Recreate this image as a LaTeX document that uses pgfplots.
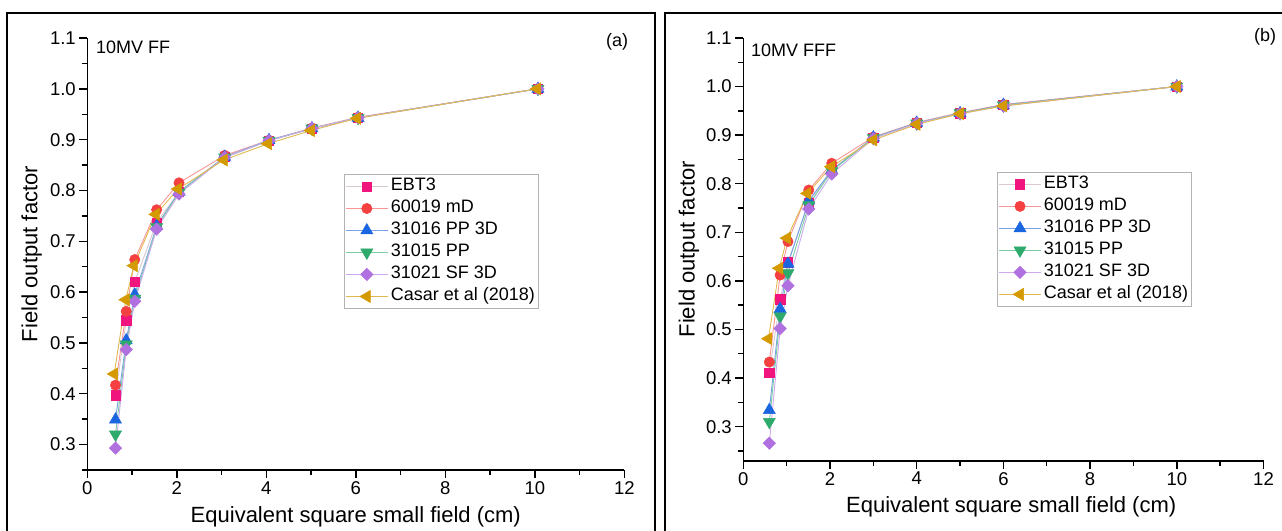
\documentclass[border=0pt]{standalone}
\usepackage{fontspec}
\setmainfont{Liberation Sans}
\usepackage{pgfplots}
\pgfplotsset{compat=1.18}

\definecolor{mEBT}{RGB}{240,20,127}
\definecolor{lEBT}{RGB}{215,200,210}
\definecolor{mMD}{RGB}{244,64,64}
\definecolor{lMD}{RGB}{248,150,150}
\definecolor{mPPD}{RGB}{26,102,224}
\definecolor{lPPD}{RGB}{120,160,230}
\definecolor{mPP}{RGB}{46,170,108}
\definecolor{lPP}{RGB}{120,205,160}
\definecolor{mSF}{RGB}{176,112,224}
\definecolor{lSF}{RGB}{205,170,240}
\definecolor{mCA}{RGB}{212,154,0}
\definecolor{lCA}{RGB}{225,185,80}

\pgfplotsset{
  myaxis/.style={
    scale only axis,
    xmin=0, xmax=12,
    axis x line*=bottom, axis y line*=left,
    axis line style={-, line width=1.6pt},
    tick align=outside,
    tick style={line width=1.4pt, black},
    major tick length=8pt, minor tick length=5pt,
    xtick={0,2,4,6,8,10,12},
    minor xtick={1,3,5,7,9,11},
    ytick={0.3,0.4,0.5,0.6,0.7,0.8,0.9,1.0,1.1},
    minor ytick={0.25,0.35,0.45,0.55,0.65,0.75,0.85,0.95,1.05},
    ticklabel style={font=\fontsize{18.5}{20}\selectfont},
    /pgf/number format/assume math mode=true,
    yticklabel style={/pgf/number format/.cd, fixed, fixed zerofill, precision=1},
    xticklabel style={/pgf/number format/.cd, fixed, precision=0},
    label style={font=\fontsize{22}{24}\selectfont},
    xlabel={Equivalent square small field (cm)},
    ylabel={Field output factor},
    clip=false,
    legend cell align=left,
    legend style={draw=gray!60, line width=0.8pt, inner sep=1pt,
      font=\fontsize{18}{20}\selectfont,
      nodes={inner sep=2.5pt, text height=13pt, text depth=4pt}},
    legend image code/.code={\draw[mark repeat=2,mark phase=2,##1] plot coordinates {(0pt,0pt) (21pt,0pt) (42pt,0pt)};},
  },
  sEBT/.style={color=lEBT, line width=0.9pt, mark=square*, mark size=4.7pt, mark options={draw=mEBT, fill=mEBT, solid, line width=0.5pt}},
  sMD/.style={color=lMD, line width=0.9pt, mark=*, mark size=5.2pt, mark options={draw=mMD, fill=mMD, solid, line width=0.5pt}},
  sPPD/.style={color=lPPD, line width=0.9pt, mark=triangle*, mark size=7pt, mark options={draw=mPPD, fill=mPPD, solid, line width=0.5pt}},
  sPP/.style={color=lPP, line width=0.9pt, mark=triangle*, mark size=7pt, mark options={draw=mPP, fill=mPP, solid, rotate=180, line width=0.5pt}},
  sSF/.style={color=lSF, line width=0.9pt, mark=square*, mark size=4.4pt, mark options={draw=mSF, fill=mSF, solid, rotate=45, line width=0.5pt}},
  sCA/.style={color=lCA, line width=0.9pt, mark=triangle*, mark size=7pt, mark options={draw=mCA, fill=mCA, solid, rotate=90, line width=0.5pt}},
}

\begin{document}
\begin{tikzpicture}[x=1pt,y=1pt]
\useasboundingbox (0,0) rectangle (1282,530);
\draw[line width=2pt] (7,-5) -- (7,517.3) -- (655,517.3) -- (655,-5);
\draw[line width=2pt] (665,-5) -- (665,517.3) -- (1290,517.3);

% ---------------- (a) 10MV FF ----------------
\begin{axis}[myaxis,
  at={(87.3pt,60pt)}, anchor=south west,
  width=537pt, height=432pt,
  ymin=0.25, ymax=1.1,
  x label style={at={(axis description cs:0.5,-0.108)}, anchor=center},
  y label style={at={(axis description cs:-0.1035,0.5)}, anchor=center},
  legend style={at={(axis description cs:0.478,0.685)}, anchor=north west},
]
\addplot[sEBT] coordinates {(0.63,0.397) (0.87,0.545) (1.06,0.620) (1.55,0.737) (2.05,0.797) (3.07,0.866) (4.06,0.898) (5.02,0.922) (6.05,0.943) (10.07,1.0)};
\addlegendentry{EBT3}
\addplot[sMD] coordinates {(0.63,0.417) (0.87,0.562) (1.06,0.664) (1.55,0.762) (2.05,0.815) (3.07,0.869) (4.06,0.899) (5.02,0.923) (6.05,0.944) (10.07,1.0)};
\addlegendentry{60019 mD}
\addplot[sPPD] coordinates {(0.63,0.349) (0.87,0.505) (1.06,0.595) (1.55,0.730) (2.05,0.797) (3.07,0.866) (4.06,0.899) (5.02,0.922) (6.05,0.943) (10.07,1.0)};
\addlegendentry{31016 PP 3D}
\addplot[sPP] coordinates {(0.63,0.320) (0.87,0.497) (1.06,0.587) (1.55,0.728) (2.05,0.796) (3.07,0.865) (4.06,0.898) (5.02,0.922) (6.05,0.943) (10.07,1.0)};
\addlegendentry{31015 PP}
\addplot[sSF] coordinates {(0.63,0.293) (0.87,0.487) (1.06,0.582) (1.55,0.724) (2.05,0.793) (3.07,0.865) (4.06,0.898) (5.02,0.922) (6.05,0.943) (10.07,1.0)};
\addlegendentry{31021 SF 3D}
\addplot[sCA] coordinates {(0.60,0.439) (0.86,0.585) (1.04,0.652) (1.53,0.753) (2.03,0.803) (3.05,0.860) (4.04,0.892) (5.0,0.918) (6.03,0.942) (10.05,1.0)};
\addlegendentry{Casar et al (2018)}
\end{axis}

% ---------------- (b) 10MV FFF ----------------
\begin{axis}[myaxis,
  at={(743.3pt,69.3pt)}, anchor=south west,
  width=520.2pt, height=422.8pt,
  ymin=0.23, ymax=1.1,
  x label style={at={(axis description cs:0.515,-0.108)}, anchor=center},
  y label style={at={(axis description cs:-0.1044,0.5)}, anchor=center},
  legend style={at={(axis description cs:0.488,0.683)}, anchor=north west},
]
\addplot[sEBT] coordinates {(0.6,0.411) (0.85,0.562) (1.03,0.638) (1.51,0.761) (2.04,0.828) (3.0,0.895) (4.0,0.925) (5.0,0.945) (6.0,0.962) (10.0,1.0)};
\addlegendentry{EBT3}
\addplot[sMD] coordinates {(0.6,0.433) (0.85,0.612) (1.03,0.681) (1.51,0.787) (2.04,0.842) (3.0,0.896) (4.0,0.926) (5.0,0.946) (6.0,0.963) (10.0,1.0)};
\addlegendentry{60019 mD}
\addplot[sPPD] coordinates {(0.6,0.334) (0.85,0.542) (1.03,0.635) (1.51,0.765) (2.04,0.828) (3.0,0.895) (4.0,0.925) (5.0,0.945) (6.0,0.962) (10.0,1.0)};
\addlegendentry{31016 PP 3D}
\addplot[sPP] coordinates {(0.6,0.310) (0.85,0.527) (1.03,0.616) (1.51,0.756) (2.04,0.826) (3.0,0.894) (4.0,0.924) (5.0,0.945) (6.0,0.961) (10.0,1.0)};
\addlegendentry{31015 PP}
\addplot[sSF] coordinates {(0.6,0.266) (0.85,0.502) (1.03,0.590) (1.51,0.748) (2.04,0.820) (3.0,0.893) (4.0,0.924) (5.0,0.944) (6.0,0.960) (10.0,1.0)};
\addlegendentry{31021 SF 3D}
\addplot[sCA] coordinates {(0.58,0.481) (0.83,0.626) (1.01,0.688) (1.48,0.780) (2.03,0.835) (3.0,0.890) (4.0,0.922) (5.0,0.944) (6.0,0.960) (10.0,1.0)};
\addlegendentry{Casar et al (2018)}
\end{axis}

\node[anchor=west, inner sep=0pt, font=\fontsize{18}{20}\selectfont] at (96,483) {10MV FF};
\node[inner sep=0pt, font=\fontsize{18}{20}\selectfont] at (617,488) {(a)};
\node[anchor=west, inner sep=0pt, font=\fontsize{18}{20}\selectfont] at (751,480) {10MV FFF};
\node[inner sep=0pt, font=\fontsize{18}{20}\selectfont] at (1265,493) {(b)};
\end{tikzpicture}
\end{document}
